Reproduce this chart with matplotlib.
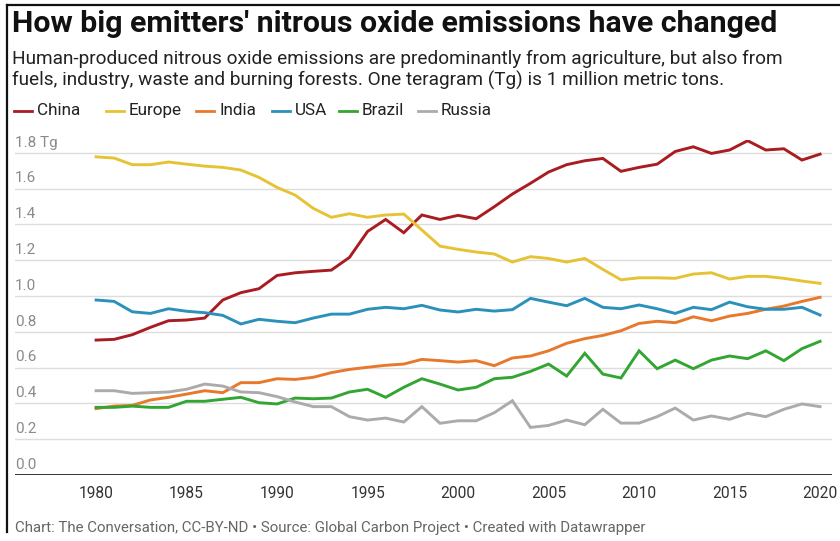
import numpy as np
import matplotlib.pyplot as plt
from matplotlib.lines import Line2D
from matplotlib.transforms import blended_transform_factory

years = np.arange(1980, 2021)

china = [0.754, 0.758, 0.784, 0.825, 0.862, 0.866, 0.877, 0.978, 1.019, 1.041,
         1.115, 1.130, 1.138, 1.145, 1.216, 1.361, 1.428, 1.354, 1.453, 1.428,
         1.451, 1.432, 1.499, 1.570, 1.630, 1.693, 1.734, 1.756, 1.769, 1.697,
         1.719, 1.737, 1.808, 1.834, 1.797, 1.816, 1.868, 1.816, 1.823, 1.760,
         1.793]
europe = [1.778, 1.771, 1.734, 1.734, 1.749, 1.737, 1.726, 1.719, 1.704, 1.663,
          1.607, 1.564, 1.490, 1.440, 1.460, 1.440, 1.453, 1.458, 1.369, 1.279,
          1.261, 1.246, 1.235, 1.190, 1.220, 1.210, 1.190, 1.210, 1.149, 1.091,
          1.102, 1.102, 1.099, 1.123, 1.130, 1.095, 1.110, 1.110, 1.099, 1.084,
          1.071]
india = [0.371, 0.385, 0.389, 0.419, 0.434, 0.452, 0.471, 0.460, 0.516, 0.516,
         0.538, 0.534, 0.546, 0.572, 0.590, 0.602, 0.613, 0.620, 0.646, 0.639,
         0.631, 0.639, 0.611, 0.654, 0.665, 0.694, 0.736, 0.762, 0.780, 0.806,
         0.847, 0.859, 0.851, 0.884, 0.862, 0.888, 0.903, 0.926, 0.944, 0.970,
         0.993]
usa = [0.978, 0.970, 0.912, 0.903, 0.929, 0.915, 0.907, 0.892, 0.844, 0.870,
       0.859, 0.851, 0.877, 0.899, 0.899, 0.926, 0.937, 0.929, 0.948, 0.922,
       0.911, 0.926, 0.916, 0.924, 0.987, 0.966, 0.946, 0.987, 0.937, 0.929,
       0.950, 0.929, 0.903, 0.937, 0.924, 0.966, 0.940, 0.926, 0.926, 0.937,
       0.894]
brazil = [0.378, 0.378, 0.385, 0.378, 0.378, 0.412, 0.412, 0.423, 0.434, 0.404,
          0.397, 0.430, 0.426, 0.430, 0.464, 0.479, 0.434, 0.490, 0.538, 0.508,
          0.475, 0.490, 0.538, 0.546, 0.579, 0.620, 0.553, 0.680, 0.564, 0.542,
          0.694, 0.594, 0.642, 0.594, 0.642, 0.665, 0.650, 0.694, 0.639, 0.706,
          0.747]
russia = [0.471, 0.471, 0.456, 0.460, 0.464, 0.479, 0.508, 0.497, 0.464, 0.460,
          0.438, 0.408, 0.382, 0.382, 0.326, 0.307, 0.318, 0.296, 0.382, 0.289,
          0.303, 0.303, 0.348, 0.415, 0.266, 0.277, 0.307, 0.281, 0.367, 0.290,
          0.290, 0.326, 0.374, 0.307, 0.330, 0.311, 0.345, 0.326, 0.367, 0.397,
          0.382]

names = ['China', 'Europe', 'India', 'USA', 'Brazil', 'Russia']
series = [china, europe, india, usa, brazil, russia]
colors = ['#a81c22', '#e6c334', '#e8792c', '#2b91bb', '#33a532', '#ababab']

yticks = [0.0, 0.2, 0.4, 0.6, 0.8, 1.0, 1.2, 1.4, 1.6, 1.8]
xticks = [1980, 1985, 1990, 1995, 2000, 2005, 2010, 2015, 2020]

W, H = 840, 541
fig = plt.figure(figsize=(W / 100, H / 100), dpi=100)
fig.patch.set_facecolor('white')

# axes: x 15..832 px, y 140..475 px (from top)
ax = fig.add_axes([15 / W, (H - 475) / H, 817 / W, 335 / H])
ax.set_xlim(1975.52, 2020.66)
ax.set_ylim(0, 1.872)

for yv in yticks[1:]:
    ax.axhline(yv, color='#dddddd', lw=1, zorder=1)
ax.axhline(0, color='#333333', lw=1.4, zorder=3)

for s, c in zip(series, colors):
    ax.plot(years, s, color=c, lw=2.1, zorder=2, solid_joinstyle='miter')

for sp in ax.spines.values():
    sp.set_visible(False)
ax.set_yticks([])
ax.set_xticks(xticks)
ax.set_xticklabels([str(x) for x in xticks], fontsize=11.2, color='#333333',
                   family='Roboto')
ax.tick_params(axis='x', length=0, pad=8)

tr = blended_transform_factory(ax.transAxes, ax.transData)
for yv in yticks:
    lbl = '%.1f' % yv + (' Tg' if yv == yticks[-1] else '')
    ax.text(0, yv + 0.018, lbl, transform=tr, ha='left', va='bottom',
            fontsize=11, color='#8a8a8a', family='Roboto')

fig.text(12 / W, 1 - 24 / H, "How big emitters' nitrous oxide emissions have changed",
         fontsize=21.8, fontweight='bold', family='Roboto', color='#111111',
         va='center', ha='left')
fig.text(12 / W, 1 - 70 / H,
         "Human-produced nitrous oxide emissions are predominantly from agriculture, but also from\n"
         "fuels, industry, waste and burning forests. One teragram (Tg) is 1 million metric tons.",
         fontsize=13.7, family='Roboto', color='#222222', va='center', ha='left',
         linespacing=1.15)

# legend
leg_x = [14, 106, 196, 272, 339, 418]
for x0, n, c in zip(leg_x, names, colors):
    fig.add_artist(Line2D([x0 / W, (x0 + 18) / W], [1 - 111 / H, 1 - 111 / H],
                          color=c, lw=2))
    fig.text((x0 + 23) / W, 1 - 111 / H, n, fontsize=12.3, family='Roboto',
             color='#222222', va='center', ha='left')

fig.text(15 / W, 1 - 528 / H,
         "Chart: The Conversation, CC-BY-ND \u2022 Source: Global Carbon Project \u2022 Created with Datawrapper",
         fontsize=10.8, family='Roboto', color='#666666', va='center', ha='left')

# screenshot frame
fig.add_artist(Line2D([7 / W, 1], [1 - 5 / H, 1 - 5 / H], color='#111111', lw=1.6))
fig.add_artist(Line2D([7 / W, 7 / W], [1 - 5 / H, 1 - 532 / H], color='#111111', lw=1.6))

fig.savefig('out.png', dpi=100)
